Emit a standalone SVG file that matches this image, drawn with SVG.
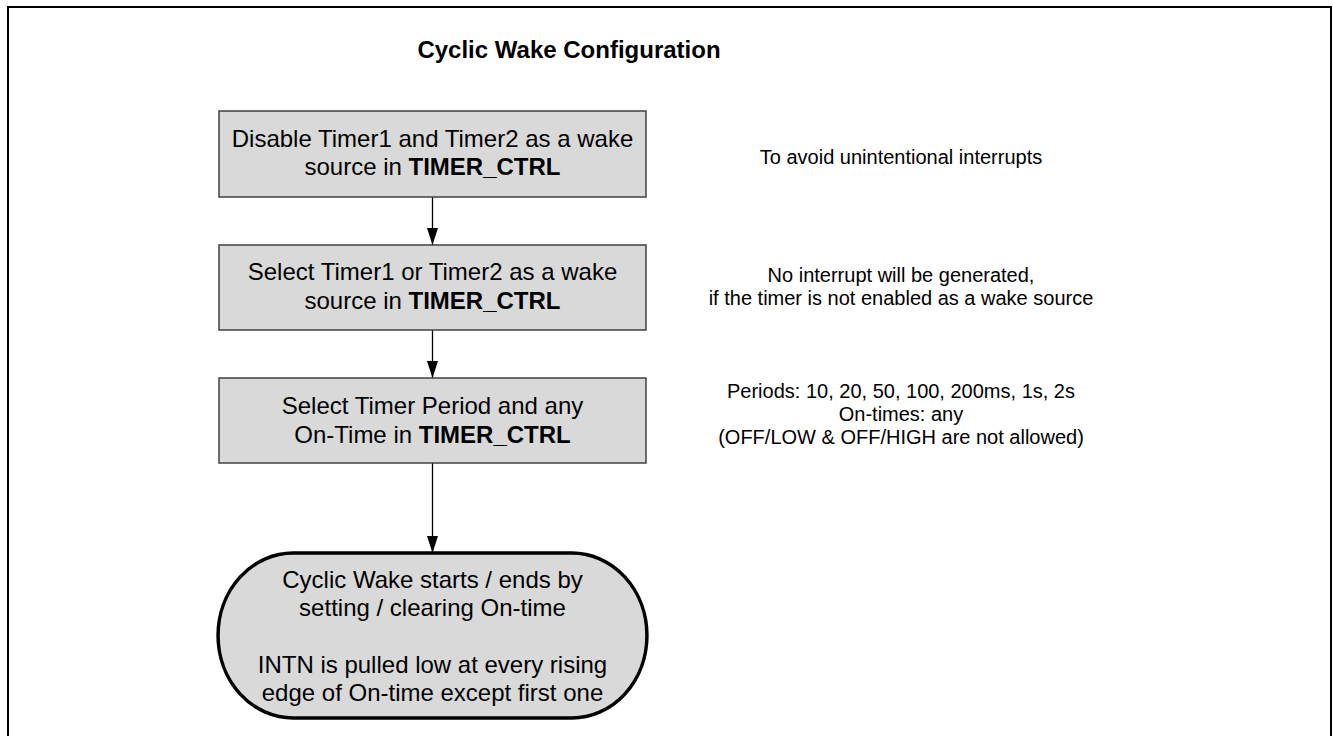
<svg xmlns="http://www.w3.org/2000/svg" width="1333" height="736" viewBox="0 0 1333 736">
<defs>
<style>
.box{fill:#d9d9d9;stroke:#404040;stroke-width:1.5}
.term{fill:#d9d9d9;stroke:#000;stroke-width:3.5}
.t{font-family:"Liberation Sans",Arial,sans-serif;font-size:24px;fill:#000;text-anchor:middle}
.s{font-family:"Liberation Sans",Arial,sans-serif;font-size:20px;fill:#000;text-anchor:middle}
.b{font-weight:bold}
.c{stroke:#000;stroke-width:1.3;fill:none}
</style>
<marker id="ah" markerWidth="17" markerHeight="11" refX="17" refY="5.5" orient="auto" markerUnits="userSpaceOnUse" viewBox="0 0 17 11">
<path d="M0,0 L17,5.5 L0,11 Z" fill="#000"/>
</marker>
</defs>
<rect x="0" y="0" width="1333" height="736" fill="#fff"/>
<rect x="8" y="7" width="1323" height="760" fill="none" stroke="#000" stroke-width="2"/>
<text id="title" class="t b" x="569" y="58">Cyclic Wake Configuration</text>
<g id="connectors">
<line class="c" x1="432.5" y1="197" x2="432.5" y2="245" marker-end="url(#ah)"/>
<line class="c" x1="432.5" y1="330" x2="432.5" y2="378" marker-end="url(#ah)"/>
<line class="c" x1="432.5" y1="463" x2="432.5" y2="553" marker-end="url(#ah)"/>
</g>
<g id="n1">
<rect class="box" x="219" y="111" width="427" height="86"/>
<text class="t" x="432.5" y="147">Disable Timer1 and Timer2 as a wake</text>
<text class="t" x="432.5" y="175">source in <tspan class="b">TIMER_CTRL</tspan></text>
</g>
<g id="n2">
<rect class="box" x="219" y="245" width="427" height="85"/>
<text class="t" x="432.5" y="280">Select Timer1 or Timer2 as a wake</text>
<text class="t" x="432.5" y="309">source in <tspan class="b">TIMER_CTRL</tspan></text>
</g>
<g id="n3">
<rect class="box" x="219" y="378" width="427" height="85"/>
<text class="t" x="432.5" y="414">Select Timer Period and any</text>
<text class="t" x="432.5" y="443">On-Time in <tspan class="b">TIMER_CTRL</tspan></text>
</g>
<g id="n4">
<path class="term" d="M293,553 H572 A75,82.5 0 0 1 572,718 H293 A75,82.5 0 0 1 293,553 Z"/>
<text class="t" x="432.5" y="588">Cyclic Wake starts / ends by</text>
<text class="t" x="432.5" y="616">setting / clearing On-time</text>
<text class="t" x="432.5" y="673">INTN is pulled low at every rising</text>
<text class="t" x="432.5" y="701">edge of On-time except first one</text>
</g>
<g id="note1">
<text class="s" x="901" y="164">To avoid unintentional interrupts</text>
</g>
<g id="note2">
<text class="s" x="901" y="282">No interrupt will be generated,</text>
<text class="s" x="901" y="305">if the timer is not enabled as a wake source</text>
</g>
<g id="note3">
<text class="s" x="901" y="398">Periods: 10, 20, 50, 100, 200ms, 1s, 2s</text>
<text class="s" x="901" y="421">On-times: any</text>
<text class="s" x="901" y="444">(OFF/LOW &amp; OFF/HIGH are not allowed)</text>
</g>
</svg>
